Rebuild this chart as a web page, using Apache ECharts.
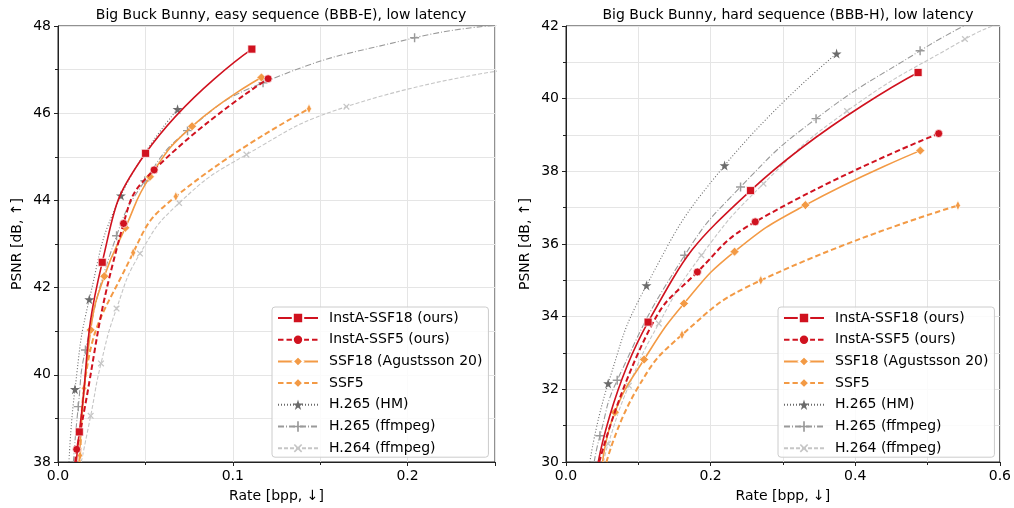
<!DOCTYPE html>
<html>
<head>
<meta charset="utf-8">
<script src="https://cdn.jsdelivr.net/npm/echarts@6/dist/echarts.min.js"></script>
<style>
  html, body { margin: 0; padding: 0; background: #fff; }
  #chart { width: 1014px; height: 508px; }
</style>
</head>
<body>
<div id="chart"></div>
<script>
// rate [bpp] / PSNR [dB] pairs
// "*Trace" = spots on the fitted curve with no marker (mostly where it leaves the axes)

// easy sequence (BBB-E)
var easyInstA18 = [[0.0122, 38.69], [0.0253, 42.58], [0.0501, 45.08], [0.1109, 47.47]];
var easyInstA18Trace = [[0.0105, 38.0]];
var easyInstA5 = [[0.0107, 38.29], [0.0375, 43.47], [0.0550, 44.70], [0.1202, 46.79]];
var easyInstA5Trace = [[0.0099, 38.0]];
var easySSF18 = [[0.0187, 41.03], [0.0265, 42.26], [0.0385, 43.37], [0.0526, 44.54], [0.0767, 45.70], [0.1164, 46.82]];
var easySSF18Trace = [[0.0122, 38.0]];
var easySSF5 = [[0.0126, 38.15], [0.0149, 39.69], [0.0430, 42.80], [0.0674, 44.09], [0.1436, 46.10]];
var easySSF5Trace = [[0.0123, 38.0]];
var easyHM = [[0.0097, 39.67], [0.0179, 41.73], [0.0360, 44.11], [0.0684, 46.09]];
var easyHMTrace = [[0.0063, 38.0]];
var easyX265 = [[0.0116, 39.27], [0.0157, 40.57], [0.0335, 43.19], [0.0497, 44.45], [0.0741, 45.60], [0.1173, 46.70], [0.2040, 47.73]];
var easyX265Trace = [[0.0088, 38.0], [0.2520, 48.02]];
var easyX264 = [[0.0187, 39.06], [0.0246, 40.26], [0.0335, 41.52], [0.0469, 42.78], [0.0693, 43.94], [0.1078, 45.05], [0.1650, 46.15]];
var easyX264Trace = [[0.0133, 38.0], [0.2520, 46.97]];

// hard sequence (BBB-H)
var hardInstA18 = [[0.1135, 33.85], [0.2552, 37.47], [0.4869, 40.72]];
var hardInstA18Trace = [[0.0446, 30.0]];
var hardInstA5 = [[0.1817, 35.23], [0.2617, 36.61], [0.5154, 39.04]];
var hardInstA5Trace = [[0.0460, 30.0], [0.1170, 33.71]];
var hardSSF18 = [[0.0676, 31.37], [0.1080, 32.82], [0.1632, 34.36], [0.2331, 35.79], [0.3310, 37.07], [0.4900, 38.57]];
var hardSSF18Trace = [[0.0506, 30.0]];
var hardSSF5 = [[0.1604, 33.50], [0.2694, 35.00], [0.5420, 37.06]];
var hardSSF5Trace = [[0.0560, 30.0], [0.0980, 32.0]];
var hardHM = [[0.0583, 32.16], [0.1113, 34.86], [0.2193, 38.16], [0.3742, 41.24]];
var hardHMTrace = [[0.0330, 30.0]];
var hardX265 = [[0.0469, 30.72], [0.0708, 32.25], [0.1641, 35.69], [0.2414, 37.57], [0.3458, 39.45], [0.4897, 41.32]];
var hardX265Trace = [[0.0390, 30.0], [0.5520, 42.02]];
var hardX264 = [[0.0583, 30.50], [0.0869, 32.10], [0.1283, 33.81], [0.1872, 35.69], [0.2731, 37.66], [0.3886, 39.66], [0.5517, 41.64]];
var hardX264Trace = [[0.0520, 30.0], [0.5920, 42.02]];

var names = ['InstA-SSF18 (ours)', 'InstA-SSF5 (ours)', 'SSF18 (Agustsson 20)', 'SSF5',
             'H.265 (HM)', 'H.265 (ffmpeg)', 'H.264 (ffmpeg)'];

var titles = ['Big Buck Bunny, easy sequence (BBB-E), low latency',
              'Big Buck Bunny, hard sequence (BBB-H), low latency'];

var RED = '#d0121f', ORANGE = '#f39a45';
var STAR = 'path://M50,0 L61,35 L98,35 L68,57 L79,91 L50,70 L21,91 L32,57 L2,35 L39,35 Z';
var PLUS = 'path://M4.2,0 H5.8 V4.2 H10 V5.8 H5.8 V10 H4.2 V5.8 H0 V4.2 H4.2 Z';

var looks = [
  { color: RED,    dash: 'solid',        width: 1.6, symbol: 'rect',    size: 8,      edge: true },
  { color: RED,    dash: [5.5, 3],       width: 2,   symbol: 'circle',  size: 8,      edge: true },
  { color: ORANGE, dash: 'solid',        width: 1.6, symbol: 'diamond', size: 9,      edge: true },
  { color: ORANGE, dash: [5.5, 3],       width: 2,   symbol: 'diamond', size: [5, 10], edge: true },
  { color: '#6b6b6b', dash: [1, 2],      width: 1.1, symbol: STAR,      size: 10 },
  { color: '#9a9a9a', dash: [6, 2, 1, 2], width: 1.1, symbol: PLUS,     size: 9 },
  { color: '#c6c6c6', dash: [4, 2],      width: 1.1, symbol: PLUS,      size: 8, rot: 45 }
];

var easy = [[easyInstA18, easyInstA18Trace], [easyInstA5, easyInstA5Trace], [easySSF18, easySSF18Trace],
            [easySSF5, easySSF5Trace], [easyHM, easyHMTrace], [easyX265, easyX265Trace], [easyX264, easyX264Trace]];
var hard = [[hardInstA18, hardInstA18Trace], [hardInstA5, hardInstA5Trace], [hardSSF18, hardSSF18Trace],
            [hardSSF5, hardSSF5Trace], [hardHM, hardHMTrace], [hardX265, hardX265Trace], [hardX264, hardX264Trace]];

// markers plus unmarked curve spots, in rate order
function toData(pts, trace) {
  var out = pts.map(function (p) { return { value: p }; });
  trace.forEach(function (p) { out.push({ value: p, symbol: 'none' }); });
  out.sort(function (a, b) { return a.value[0] - b.value[0]; });
  return out;
}

var FONT = 'DejaVu Sans';
var FS = 14;
var series = [];
[easy, hard].forEach(function (set, g) {
  // draw the gray codecs first so the learned codecs sit on top
  for (var i = set.length - 1; i >= 0; i--) {
    var lk = looks[i];
    series.push({
      type: 'line', name: names[i], xAxisIndex: g, yAxisIndex: g,
      data: toData(set[i][0], set[i][1]),
      smooth: 0.5, clip: true,
      symbol: lk.symbol, symbolSize: lk.size, symbolRotate: lk.rot || 0,
      showAllSymbol: true,
      lineStyle: { color: lk.color, width: lk.width, type: lk.dash },
      itemStyle: { color: lk.color, borderColor: lk.edge ? '#fff' : lk.color, borderWidth: lk.edge ? 0.7 : 0, opacity: 1 },
      emphasis: { disabled: true },
      animation: false, z: 10 - i
    });
  }
});

function xAxis(g, max, step) {
  return {
    type: 'value', gridIndex: g, min: 0, max: max, interval: step,
    name: 'Rate [bpp, ↓]', nameLocation: 'middle', nameGap: 27,
    nameTextStyle: { color: '#000', fontSize: FS, fontFamily: FONT },
    axisLine: { onZero: false, lineStyle: { color: '#222', width: 1 } },
    axisTick: { show: true, length: 4, lineStyle: { color: '#222' } },
    minorTick: { show: true, splitNumber: 2, length: 3, lineStyle: { color: '#222' } },
    axisLabel: { color: '#000', fontSize: FS, fontFamily: FONT, margin: 7,
                 showMaxLabel: max !== 0.25,
                 formatter: function (v) { return v.toFixed(1); } },
    splitLine: { show: true, lineStyle: { color: '#e5e5e5', width: 1 } },
    minorSplitLine: { show: true, lineStyle: { color: '#e5e5e5', width: 1 } }
  };
}
function yAxis(g, min, max) {
  return {
    type: 'value', gridIndex: g, min: min, max: max, interval: 2,
    name: 'PSNR [dB, ↑]', nameLocation: 'middle', nameGap: 34, nameRotate: 90,
    nameTextStyle: { color: '#000', fontSize: FS, fontFamily: FONT },
    axisLine: { show: true, onZero: false, lineStyle: { color: '#222', width: 1 } },
    axisTick: { show: true, length: 4, lineStyle: { color: '#222' } },
    minorTick: { show: true, splitNumber: 2, length: 3, lineStyle: { color: '#222' } },
    axisLabel: { color: '#000', fontSize: FS, fontFamily: FONT, margin: 7 },
    splitLine: { show: true, lineStyle: { color: '#e5e5e5', width: 1 } },
    minorSplitLine: { show: true, lineStyle: { color: '#e5e5e5', width: 1 } }
  };
}
function legend(left) {
  return {
    orient: 'vertical', left: left, top: 307, data: names,
    itemWidth: 40, itemHeight: 13, itemGap: 5.7,
    padding: [3, 6, 1, 5],
    backgroundColor: 'rgba(255,255,255,0.85)', borderColor: '#cccccc', borderWidth: 1, borderRadius: 3,
    textStyle: { color: '#000', fontSize: FS, fontFamily: FONT, lineHeight: 16, padding: [0, 0, 0, 6] },
    selectedMode: false
  };
}

var chart = echarts.init(document.getElementById('chart'), null, { renderer: 'canvas' });
chart.setOption({
  backgroundColor: '#fff',
  animation: false,
  textStyle: { fontFamily: FONT },
  title: [
    { text: titles[0], left: 276, top: 3, textAlign: 'center',
      textStyle: { color: '#000', fontSize: FS, fontWeight: 'normal', fontFamily: FONT } },
    { text: titles[1], left: 783, top: 3, textAlign: 'center',
      textStyle: { color: '#000', fontSize: FS, fontWeight: 'normal', fontFamily: FONT } }
  ],
  grid: [
    { left: 58, top: 26, width: 437, height: 437, show: true, borderColor: '#222', borderWidth: 1, backgroundColor: 'transparent' },
    { left: 566, top: 26, width: 435, height: 437, show: true, borderColor: '#222', borderWidth: 1, backgroundColor: 'transparent' }
  ],
  xAxis: [xAxis(0, 0.25, 0.1), xAxis(1, 0.6, 0.2)],
  yAxis: [yAxis(0, 38, 48), yAxis(1, 30, 42)],
  legend: [legend(272), legend(778)],
  series: series
});
</script>
</body>
</html>
